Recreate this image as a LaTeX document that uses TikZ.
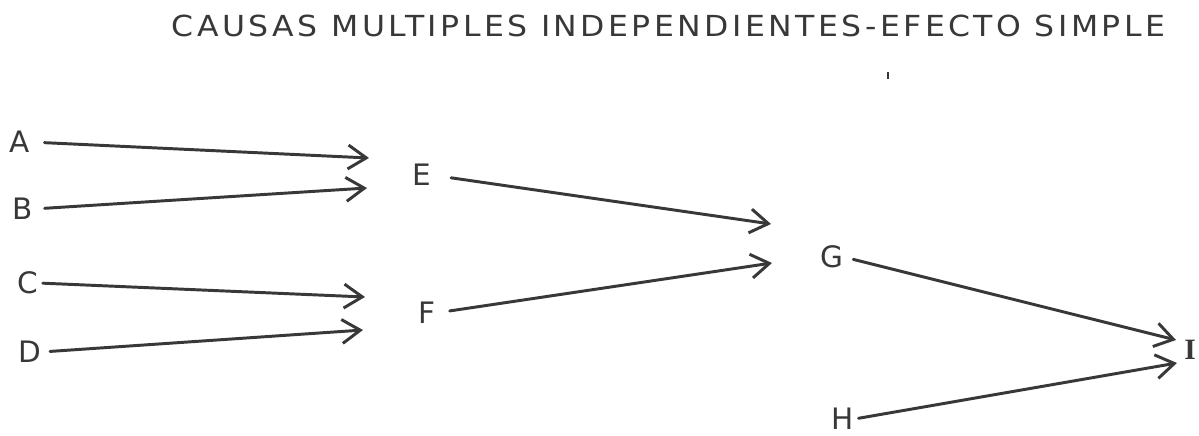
\documentclass[tikz,border=0pt]{standalone}
\usepackage{fontspec}
\setmainfont{DejaVu Sans}
\newfontfamily\titlefont[LetterSpace=11]{DejaVu Sans}
\newfontfamily\serifI{Liberation Serif}
\usetikzlibrary{arrows.meta}
\definecolor{ink}{gray}{0.22}
\tikzset{
  lab/.style={inner sep=0pt, text=ink, font=\fontsize{21}{22}\selectfont},
  arr/.style={draw=ink, line width=2.1pt, line cap=round,
    -{Straight Barb[length=13pt,width=17pt,line width=2.1pt]}}
}
\begin{document}
\begin{tikzpicture}[x=0.025cm,y=-0.025cm]
\useasboundingbox (0,0) rectangle (1199,435);
% title
\node[anchor=south, inner sep=0pt, text=ink] (title) at (668.5,37)
  {\resizebox{24.825cm}{15.3pt}{\titlefont CAUSAS MULTIPLES INDEPENDIENTES-EFECTO SIMPLE}};
\draw[ink, line width=0.9pt] (888,72) -- (888,79);
% labels
\node[lab] (A) at (20,142) {A};
\node[lab] (B) at (23,209) {B};
\node[lab] (C) at (28,283) {C};
\node[lab] (D) at (30,352) {D};
\node[lab] (E) at (422,175) {E};
\node[lab] (F) at (427,313) {F};
\node[lab] (G) at (832,257) {G};
\node[lab] (H) at (843,419) {H};
\node[lab, font=\fontsize{21}{22}\serifI\bfseries] (I) at (1190,350) {I};
% arrow ends
\coordinate (tA) at (369,158);
\coordinate (tB) at (367,188);
\coordinate (tC) at (365,297);
\coordinate (tD) at (363,330);
\coordinate (tE) at (771,224);
\coordinate (tF) at (772,263);
\coordinate (tG) at (1176,340);
\coordinate (tH) at (1177,363);
% connectors
\draw[arr, shorten <=10pt] (A.east) -- (tA);
\draw[arr, shorten <=8pt] (B.east) -- (tB);
\draw[arr, shorten <=3pt] (C.east) -- (tC);
\draw[arr, shorten <=6pt] (D.east) -- (tD);
\draw[arr, shorten <=14pt] (E.east) -- (tE);
\draw[arr, shorten <=10pt] (F.east) -- (tF);
\draw[arr, shorten <=7pt] (G.east) -- (tG);
\draw[arr, shorten <=3pt] (H.east) -- (tH);
\end{tikzpicture}
\end{document}
